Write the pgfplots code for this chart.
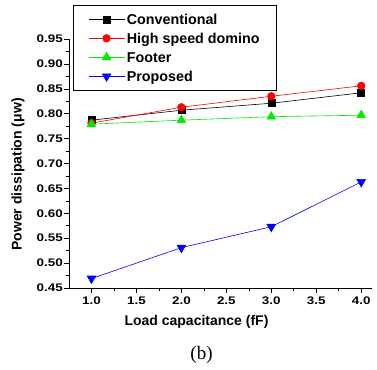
\documentclass[border=0pt]{standalone}
\usepackage{fontspec}
\setmainfont{Liberation Sans}
\newfontfamily\serifb{Liberation Serif}
\newfontfamily\tickfont[FakeStretch=1.22, UprightFont={* Bold}, BoldFont={* Bold}]{Liberation Sans}
\usepackage{pgfplots}
\pgfplotsset{compat=1.18}
\definecolor{myred}{RGB}{255,0,0}
\definecolor{mygreen}{RGB}{0,235,0}
\definecolor{myblue}{RGB}{0,0,255}
\pgfplotsset{
  legend image code/.code={\draw[mark repeat=2,mark phase=2,#1] plot coordinates {(0pt,0pt) (18pt,0pt) (36pt,0pt)};}
}
\begin{document}
\begin{tikzpicture}
\begin{axis}[
  scale only axis,
  width=303pt, height=249pt,
  xmin=0.75, xmax=4.12,
  ymin=0.45, ymax=0.95,
  axis x line*=bottom, axis y line*=left,
  axis line style={-, line width=0.6pt},
  xtick={1,1.5,...,4}, ytick={0.45,0.5,...,0.95},
  minor x tick num=1, minor y tick num=1,
  tick align=outside,
  major tick length=5pt, minor tick length=3pt,
  tick style={black, line width=0.6pt},
  /pgf/number format/assume math mode=true,
  ticklabel style={font=\tickfont\fontsize{11}{13}\selectfont},
  xticklabel style={/pgf/number format/.cd, fixed, fixed zerofill, precision=1},
  yticklabel style={inner xsep=1pt, /pgf/number format/.cd, fixed, fixed zerofill, precision=2},
  xlabel={Load capacitance (fF)},
  ylabel={Power dissipation (μw)},
  label style={font=\fontsize{14}{16}\selectfont\bfseries},
  xlabel style={at={(axis description cs:0.4208,-0.1365)}, anchor=center},
  ylabel style={at={(axis description cs:-0.168,0.456)}, anchor=center, rotate=0},
  legend style={at={(axis description cs:0.0132,1.1365)}, anchor=north west,
    draw=black, line width=0.6pt, font=\fontsize{14.3}{16}\selectfont\bfseries,
    legend cell align=left, row sep=1pt, inner xsep=15pt, inner ysep=5pt,
    nodes={text height=12pt, text depth=2pt, inner sep=2pt}},
  clip=false,
]
\addplot[black, line width=0.6pt, mark=square*, mark size=3.5pt, mark options={solid}] coordinates {(1,0.787) (2,0.807) (3,0.821) (4,0.842)};
\addlegendentry{Conventional}
\addplot[myred, line width=0.6pt, mark=*, mark size=3.8pt] coordinates {(1,0.781) (2,0.813) (3,0.835) (4,0.856)};
\addlegendentry{High speed domino}
\addplot[mygreen, line width=0.6pt, mark=triangle*, mark size=5pt] coordinates {(1,0.779) (2,0.787) (3,0.794) (4,0.797)};
\addlegendentry{Footer}
\addplot[myblue, line width=0.6pt, mark=triangle*, mark size=5pt, mark options={rotate=180}] coordinates {(1,0.469) (2,0.531) (3,0.573) (4,0.663)};
\addlegendentry{Proposed}
\end{axis}
\node[font=\serifb\fontsize{19}{22}\selectfont] at (132.5pt,-67pt) {(b)};
\pgfresetboundingbox
\path (-69pt,-81pt) rectangle (308pt,288pt);
\end{tikzpicture}
\end{document}
